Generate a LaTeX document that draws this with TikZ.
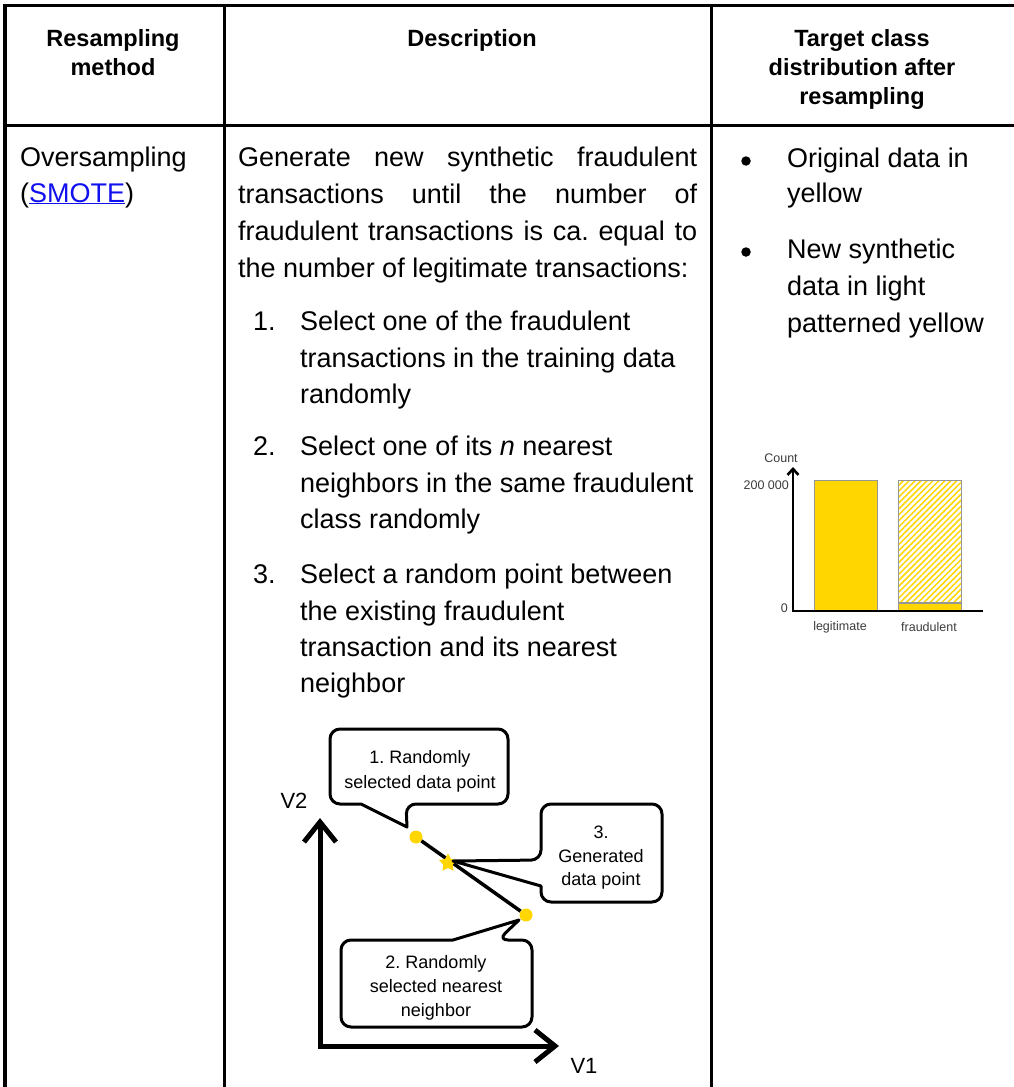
\documentclass[tikz,border=0pt]{standalone}
\usepackage{fontspec}
\setmainfont{Liberation Sans}
\usetikzlibrary{arrows.meta,shapes.geometric,patterns.meta}
\definecolor{gold}{RGB}{255,214,0}
\definecolor{linkblue}{RGB}{17,17,238}
\definecolor{barline}{RGB}{150,150,150}
\definecolor{labelgray}{RGB}{60,60,60}
\frenchspacing
\begin{document}
\begin{tikzpicture}[x=1pt,y=-1pt,
  rule/.style={line width=3.6pt, line join=miter},
  head/.style={font=\bfseries\fontsize{23.5}{28}\selectfont, inner sep=0pt, anchor=base},
  body/.style={font=\fontsize{27}{36}\selectfont, inner sep=0pt, anchor=base west},
  small/.style={font=\fontsize{12.5}{14}\selectfont, inner sep=0pt, text=labelgray},
  note/.style={font=\fontsize{18}{24}\selectfont, inner sep=0pt, anchor=base},
  axislabel/.style={font=\fontsize{22}{26}\selectfont, inner sep=0pt},
  bubble/.style={line width=3pt, rounded corners=10pt, line join=round},
  dot/.style={circle, fill=gold, minimum size=13pt, inner sep=0pt},
  newpoint/.style={star, star points=5, star point ratio=1.9, fill=gold, minimum size=19pt, inner sep=0pt},
  bulletdot/.style={circle, fill=black, minimum size=9.5pt, inner sep=0pt},
  bar/.style={draw=barline, line width=0.8pt},
  bigbarb/.tip={Straight Barb[length=20pt, width=32pt]},
  smallbarb/.tip={Straight Barb[length=6pt, width=11pt]}
]
\useasboundingbox (0,0) rectangle (1013,1087);
\fill[white] (0,0) rectangle (1013,1087);

% ---- table rules ----
\draw[rule] (5,1095) -- (5,5.5) -- (1020,5.5);
\draw[rule] (5,125.5) -- (1020,125.5);
\draw[rule] (224.5,5.5) -- (224.5,1095);
\draw[rule] (711.5,5.5) -- (711.5,1095);

% ---- header row ----
\node[head] (h1a) at (113,46) {Resampling};
\node[head] (h1b) at (113,75) {method};
\node[head] (h2)  at (472,46) {Description};
\node[head] (h3a) at (862,46) {Target class};
\node[head] (h3b) at (862,75) {distribution after};
\node[head] (h3c) at (862,104) {resampling};

% ---- method column ----
\node[body] (m1) at (20,166) {Oversampling};
\node[body] (m2) at (20,202) {(\textcolor{linkblue}{\underline{SMOTE}})};

% ---- description column ----
\node[body] (p1) at (238,166) {\makebox[459pt][s]{Generate new synthetic fraudulent}};
\node[body] (p2) at (238,203) {\makebox[459pt][s]{transactions until the number of}};
\node[body] (p3) at (238,240) {\makebox[459pt][s]{fraudulent transactions is ca. equal to}};
\node[body] (p4) at (238,277) {the number of legitimate transactions:};

\node[body] (n1)  at (253,330) {1.};
\node[body] (s1a) at (300,330) {Select one of the fraudulent};
\node[body] (s1b) at (300,367) {transactions in the training data};
\node[body] (s1c) at (300,403) {randomly};

\node[body] (n2)  at (253,455) {2.};
\node[body] (s2a) at (300,455) {Select one of its \textit{n} nearest};
\node[body] (s2b) at (300,492) {neighbors in the same fraudulent};
\node[body] (s2c) at (300,528) {class randomly};

\node[body] (n3)  at (253,583) {3.};
\node[body] (s3a) at (300,583) {Select a random point between};
\node[body] (s3b) at (300,620) {the existing fraudulent};
\node[body] (s3c) at (300,656) {transaction and its nearest};
\node[body] (s3d) at (300,692) {neighbor};

% ---- SMOTE sketch ----
\coordinate (v2tip) at (320,818);
\coordinate (corner) at (320,1046);
\coordinate (v1tip) at (559,1046);
\draw[line width=5pt, line join=miter, bigbarb-bigbarb] (v2tip) -- (corner) -- (v1tip);
\node[axislabel] (V2) at (294,801) {V2};
\node[axislabel] (V1) at (584,1066) {V1};

\node[dot] (pa) at (416,837) {};
\node[dot] (pb) at (526,915) {};
\draw[line width=3.5pt] (pa) -- (pb);
\node[newpoint] (pn) at (448,863) {};

% callout 1
\coordinate (t1) at (407,827);
\draw[bubble] (361,804) -- (330,804) -- (330,729) -- (508,729) -- (508,804) -- (406,804) [sharp corners] -- (t1) -- cycle;
\node[note] (c1a) at (420,763) {1. Randomly};
\node[note] (c1b) at (420,788) {selected data point};

% callout 3
\coordinate (t3) at (453,861);
\draw[bubble] (541,886) -- (541,902) -- (662,902) -- (662,804) -- (541,804) -- (541,860) [sharp corners] -- (t3) -- cycle;
\node[note] (c3a) at (601,838) {3.};
\node[note] (c3b) at (601,862) {Generated};
\node[note] (c3c) at (601,885) {data point};

% callout 2
\coordinate (t2) at (519,920);
\draw[bubble] (453,940) -- (341,940) -- (341,1027) -- (532,1027) -- (532,940) -- (498,940) [sharp corners] -- (t2) -- cycle;
\node[note] (c2a) at (436,968) {2. Randomly};
\node[note] (c2b) at (436,992) {selected nearest};
\node[note] (c2c) at (436,1016) {neighbor};

% ---- target distribution column ----
\node[bulletdot] (b1) at (746,161) {};
\node[body] (o1) at (787,167) {Original data in};
\node[body] (o2) at (787,202) {yellow};
\node[bulletdot] (b2) at (746,252) {};
\node[body] (o3) at (787,258) {New synthetic};
\node[body] (o4) at (787,295) {data in light};
\node[body] (o5) at (787,332) {patterned yellow};

% bar chart
\coordinate (ytip) at (793,467);
\coordinate (origin) at (793,611);
\coordinate (xend) at (983,611);
\draw[bar, fill=gold] (814,480) rectangle (877,610);
\draw[bar, pattern={Lines[angle=45, distance=4.2pt, line width=1.5pt]}, pattern color=gold] (898,480) rectangle (961,602);
\draw[bar, fill=gold] (898,603.5) rectangle (961,610);
\draw[line width=2.6pt, line join=miter, smallbarb-] (ytip) -- (origin) -- (xend);
\node[small] (cnt) at (781,458) {Count};
\node[small, anchor=east] (t200) at (789,485) {200 000};
\node[small, anchor=east] (t0) at (788,608) {0};
\node[small] (lg) at (840,627) {legitimate};
\node[small] (fr) at (929,627) {fraudulent};
\end{tikzpicture}
\end{document}
